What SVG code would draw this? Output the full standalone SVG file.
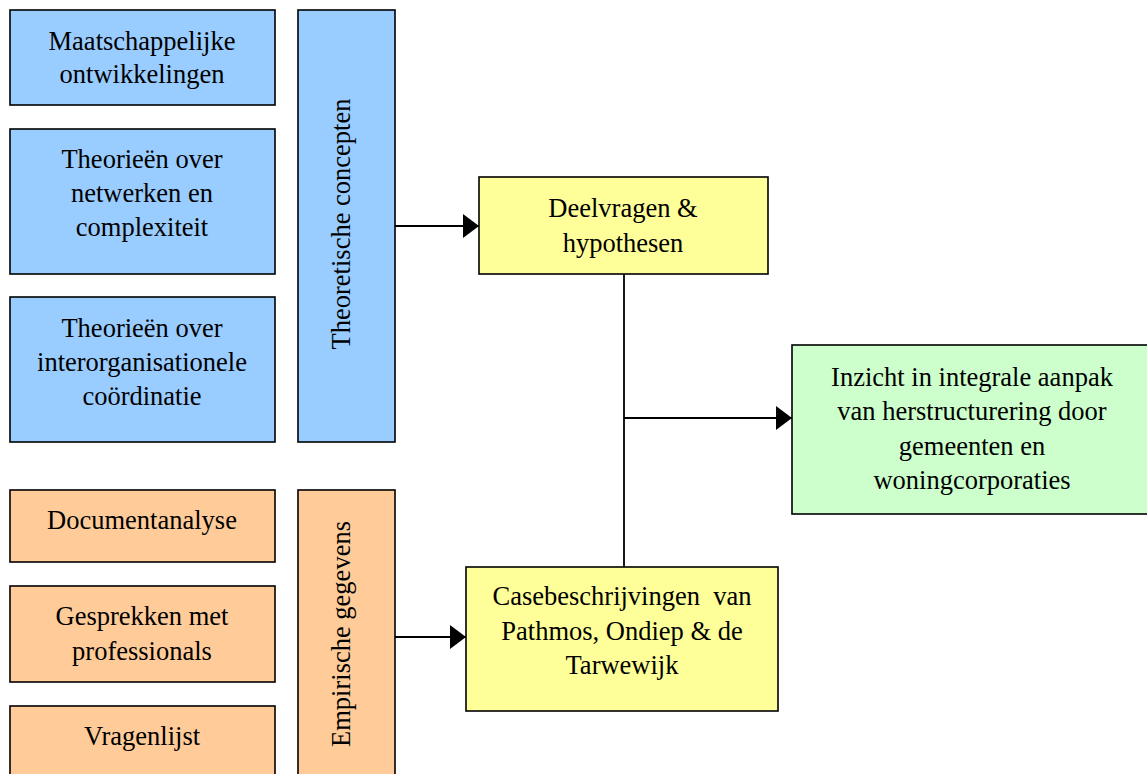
<svg xmlns="http://www.w3.org/2000/svg" width="1147" height="774" viewBox="0 0 1147 774">
<style>
.box{stroke:#000;stroke-width:1.6}
.blue{fill:#99CCFF}.orange{fill:#FFCC99}.yellow{fill:#FFFF99}.green{fill:#CCFFCC}
text{font-family:"Liberation Serif","Times New Roman",serif;font-size:26.5px;fill:#000;text-anchor:middle}
.pre{white-space:pre}
.conn{stroke:#000;stroke-width:1.8;fill:none}
</style>
<defs>
<marker id="ah" markerUnits="userSpaceOnUse" markerWidth="18" markerHeight="24" refX="16" refY="12" orient="auto">
<path d="M0,0 L16,12 L0,24 Z" fill="#000"/>
</marker>
</defs>
<rect width="1147" height="774" fill="#fff"/>
<g id="n-maatschappelijke"><rect class="box blue" x="10" y="10" width="265" height="95"/><text x="142" y="50">Maatschappelijke</text><text x="142" y="83">ontwikkelingen</text></g>
<g id="n-netwerken"><rect class="box blue" x="10" y="129" width="265" height="145"/><text x="142" y="168">Theorieën over</text><text x="142" y="202">netwerken en</text><text x="142" y="236">complexiteit</text></g>
<g id="n-coordinatie"><rect class="box blue" x="10" y="297" width="265" height="145"/><text x="142" y="337">Theorieën over</text><text x="142" y="371">interorganisationele</text><text x="142" y="405">coördinatie</text></g>
<g id="n-theoretisch"><rect class="box blue" x="298" y="10" width="97" height="432"/><text transform="translate(350,224) rotate(-90)">Theoretische concepten</text></g>
<g id="n-document"><rect class="box orange" x="10" y="490" width="265" height="72"/><text x="142" y="529">Documentanalyse</text></g>
<g id="n-gesprekken"><rect class="box orange" x="10" y="586" width="265" height="96"/><text x="142" y="625">Gesprekken met</text><text x="142" y="660">professionals</text></g>
<g id="n-vragenlijst"><rect class="box orange" x="10" y="706" width="265" height="80"/><text x="142" y="745">Vragenlijst</text></g>
<g id="n-empirisch"><rect class="box orange" x="298" y="490" width="97" height="300"/><text transform="translate(350,634) rotate(-90)">Empirische gegevens</text></g>
<g id="n-deelvragen"><rect class="box yellow" x="479" y="177" width="289" height="97"/><text x="623" y="217">Deelvragen &amp;</text><text x="623" y="252">hypothesen</text></g>
<g id="n-case"><rect class="box yellow" x="466" y="567" width="312" height="144"/><text class="pre" x="622" y="605">Casebeschrijvingen  van</text><text x="622" y="640">Pathmos, Ondiep &amp; de</text><text x="622" y="674">Tarwewijk</text></g>
<g id="n-inzicht"><rect class="box green" x="792" y="345" width="360" height="169"/><text x="972" y="386">Inzicht in integrale aanpak</text><text x="972" y="420">van herstructurering door</text><text x="972" y="455">gemeenten en</text><text x="972" y="489">woningcorporaties</text></g>
<g id="connectors">
<path class="conn" d="M395,226 H479" marker-end="url(#ah)"/>
<path class="conn" d="M395,637 H466" marker-end="url(#ah)"/>
<path class="conn" d="M624,274 V567"/>
<path class="conn" d="M624,418 H792" marker-end="url(#ah)"/>
</g>
</svg>
